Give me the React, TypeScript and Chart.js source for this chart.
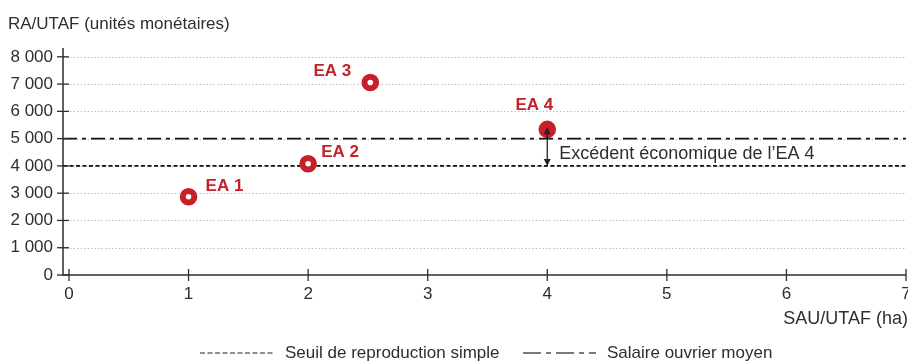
import React, { useEffect, useRef } from "react";
import { Chart, registerables } from "chart.js";

Chart.register(...registerables);

const farmNames = ["EA 1", "EA 2", "EA 3", "EA 4"];
const sauPerUtaf = [1.0, 2.0, 2.52, 4.0];
const raPerUtaf = [2870, 4080, 7060, 5340];
const xTicks = [0, 1, 2, 3, 4, 5, 6, 7];
const yTicks = [0, 1000, 2000, 3000, 4000, 5000, 6000, 7000, 8000];
const seuilReproduction = 4000;
const salaireOuvrier = 5000;
const excedentFarmIndex = 3;

const labelOffsets = [
  { dx: 17, dy: -10, align: "left" },
  { dx: 13, dy: -11, align: "left" },
  { dx: -19, dy: -11, align: "right" },
  { dx: -13, dy: -24, align: "center" },
];

const RED = "#c62029";
const DARK = "#2e2e2e";
const FONT = "'Liberation Sans', Arial, Helvetica, sans-serif";

const fmt = (v: number) => {
  const s = String(Math.round(v));
  return s.replace(/\B(?=(\d{3})+(?!\d))/g, " ");
};

const overlayPlugin = {
  id: "overlay",
  beforeDatasetsDraw(chart: any) {
    const { ctx, chartArea, scales } = chart;
    const xs = scales.x;
    const ys = scales.y;
    ctx.save();
    // grid lines
    ctx.strokeStyle = "#c2bcbc";
    ctx.lineWidth = 1;
    ctx.setLineDash([1.5, 2]);
    yTicks.forEach((t) => {
      if (t === 0) return;
      const y = Math.round(ys.getPixelForValue(t)) + 0.5;
      ctx.beginPath();
      ctx.moveTo(chartArea.left, y);
      ctx.lineTo(chartArea.right, y);
      ctx.stroke();
    });
    // reference lines
    ctx.strokeStyle = "#111";
    ctx.lineWidth = 1.6;
    ctx.setLineDash([4, 2.5]);
    let y = ys.getPixelForValue(seuilReproduction);
    ctx.beginPath();
    ctx.moveTo(chartArea.left, y);
    ctx.lineTo(chartArea.right, y);
    ctx.stroke();
    ctx.setLineDash([14, 5, 4, 5]);
    y = ys.getPixelForValue(salaireOuvrier);
    ctx.beginPath();
    ctx.moveTo(chartArea.left, y);
    ctx.lineTo(chartArea.right, y);
    ctx.stroke();
    ctx.setLineDash([]);
    // axes
    ctx.strokeStyle = DARK;
    ctx.lineWidth = 1.5;
    ctx.beginPath();
    ctx.moveTo(chartArea.left, chartArea.top - 2);
    ctx.lineTo(chartArea.left, chartArea.bottom);
    ctx.lineTo(chartArea.right, chartArea.bottom);
    ctx.stroke();
    ctx.lineWidth = 1.3;
    yTicks.forEach((t) => {
      const yy = ys.getPixelForValue(t);
      ctx.beginPath();
      ctx.moveTo(chartArea.left - 6, yy);
      ctx.lineTo(chartArea.left + 6, yy);
      ctx.stroke();
    });
    xTicks.forEach((t) => {
      const xx = xs.getPixelForValue(t);
      ctx.beginPath();
      ctx.moveTo(xx, chartArea.bottom - 6);
      ctx.lineTo(xx, chartArea.bottom + 6);
      ctx.stroke();
    });
    ctx.restore();
  },
  afterDatasetsDraw(chart: any) {
    const { ctx, scales } = chart;
    const xs = scales.x;
    const ys = scales.y;
    ctx.save();
    // arrow
    const ax = xs.getPixelForValue(sauPerUtaf[excedentFarmIndex]);
    const top = ys.getPixelForValue(raPerUtaf[excedentFarmIndex]) - 2;
    const bot = ys.getPixelForValue(seuilReproduction);
    ctx.strokeStyle = "#222";
    ctx.fillStyle = "#222";
    ctx.lineWidth = 1.3;
    ctx.beginPath();
    ctx.moveTo(ax, top + 3);
    ctx.lineTo(ax, bot - 3);
    ctx.stroke();
    ctx.beginPath();
    ctx.moveTo(ax, top);
    ctx.lineTo(ax - 3.5, top + 7);
    ctx.lineTo(ax + 3.5, top + 7);
    ctx.closePath();
    ctx.fill();
    ctx.beginPath();
    ctx.moveTo(ax, bot);
    ctx.lineTo(ax - 3.5, bot - 7);
    ctx.lineTo(ax + 3.5, bot - 7);
    ctx.closePath();
    ctx.fill();
    ctx.fillStyle = DARK;
    ctx.font = `18px ${FONT}`;
    ctx.textAlign = "left";
    ctx.textBaseline = "middle";
    const midY = (ys.getPixelForValue(salaireOuvrier) + bot) / 2 + 2;
    ctx.fillText("Excédent économique de l’EA 4", ax + 12, midY);

    // point labels
    ctx.fillStyle = RED;
    ctx.font = `bold 17px ${FONT}`;
    farmNames.forEach((n, i) => {
      const px = xs.getPixelForValue(sauPerUtaf[i]);
      const py = ys.getPixelForValue(raPerUtaf[i]);
      const o = labelOffsets[i];
      ctx.textAlign = o.align as CanvasTextAlign;
      ctx.fillText(n, px + o.dx, py + o.dy);
    });

    // titles
    ctx.fillStyle = DARK;
    ctx.font = `17px ${FONT}`;
    ctx.textAlign = "left";
    ctx.fillText("RA/UTAF (unités monétaires)", 8, 24);
    ctx.font = `18px ${FONT}`;
    ctx.textAlign = "right";
    ctx.fillText("SAU/UTAF (ha)", 908, 319);

    // legend
    const ly = 353;
    ctx.strokeStyle = "#222";
    ctx.lineWidth = 1.2;
    ctx.setLineDash([5, 2.5]);
    ctx.beginPath();
    ctx.moveTo(200, ly);
    ctx.lineTo(275, ly);
    ctx.stroke();
    ctx.setLineDash([]);
    const segs = [
      [523, 541],
      [546, 551],
      [556, 574],
      [579, 584],
      [589, 596],
    ];
    segs.forEach(([a, b]) => {
      ctx.beginPath();
      ctx.moveTo(a, ly);
      ctx.lineTo(b, ly);
      ctx.stroke();
    });
    ctx.font = `17px ${FONT}`;
    ctx.textAlign = "left";
    ctx.fillText("Seuil de reproduction simple", 285, ly);
    ctx.fillText("Salaire ouvrier moyen", 607, ly);
    ctx.restore();
  },
};

export default function App() {
  const ref = useRef<HTMLCanvasElement | null>(null);
  useEffect(() => {
    if (!ref.current) return;
    const chart = new Chart(ref.current, {
      type: "scatter",
      data: {
        datasets: [
          {
            label: "EA",
            data: sauPerUtaf.map((x, i) => ({ x, y: raPerUtaf[i] })),
            pointRadius: 5.8,
            pointHoverRadius: 5.8,
            pointBorderWidth: 6,
            pointBorderColor: RED,
            pointBackgroundColor: sauPerUtaf.map((_, i) => (i === excedentFarmIndex ? RED : "#ffffff")),
            clip: false,
          },
        ],
      },
      plugins: [overlayPlugin],
      options: {
        responsive: false,
        animation: false,
        events: [],
        layout: { autoPadding: false, padding: { top: 50, right: 2, left: 0, bottom: 0 } },
        plugins: { legend: { display: false }, tooltip: { enabled: false }, title: { display: false } },
        scales: {
          x: {
            type: "linear",
            min: -0.05,
            max: 7,
            afterBuildTicks: (s: any) => {
              s.ticks = xTicks.map((v) => ({ value: v }));
            },
            afterFit: (s: any) => {
              s.height = 88;
              s.paddingLeft = 0;
              s.paddingRight = 0;
            },
            grid: { display: false, drawTicks: false },
            border: { display: false },
            ticks: {
              padding: 9,
              color: DARK,
              font: { family: FONT, size: 17 },
              callback: (v: any) => String(v),
              maxRotation: 0,
              autoSkip: false,
            },
          },
          y: {
            type: "linear",
            min: 0,
            max: 8250,
            afterBuildTicks: (s: any) => {
              s.ticks = yTicks.map((v) => ({ value: v }));
            },
            afterFit: (s: any) => {
              s.width = 63;
              s.paddingTop = 0;
              s.paddingBottom = 0;
            },
            grid: { display: false, drawTicks: false },
            border: { display: false },
            ticks: {
              padding: 10,
              color: DARK,
              font: { family: FONT, size: 17 },
              callback: (v: any) => fmt(Number(v)),
              autoSkip: false,
            },
          },
        },
      },
    });
    return () => chart.destroy();
  }, []);
  return (
    <div style={{ position: "absolute", left: 0, top: 0, width: 908, height: 363, background: "#fff" }}>
      <canvas ref={ref} width={908} height={363} style={{ width: 908, height: 363 }} />
    </div>
  );
}
